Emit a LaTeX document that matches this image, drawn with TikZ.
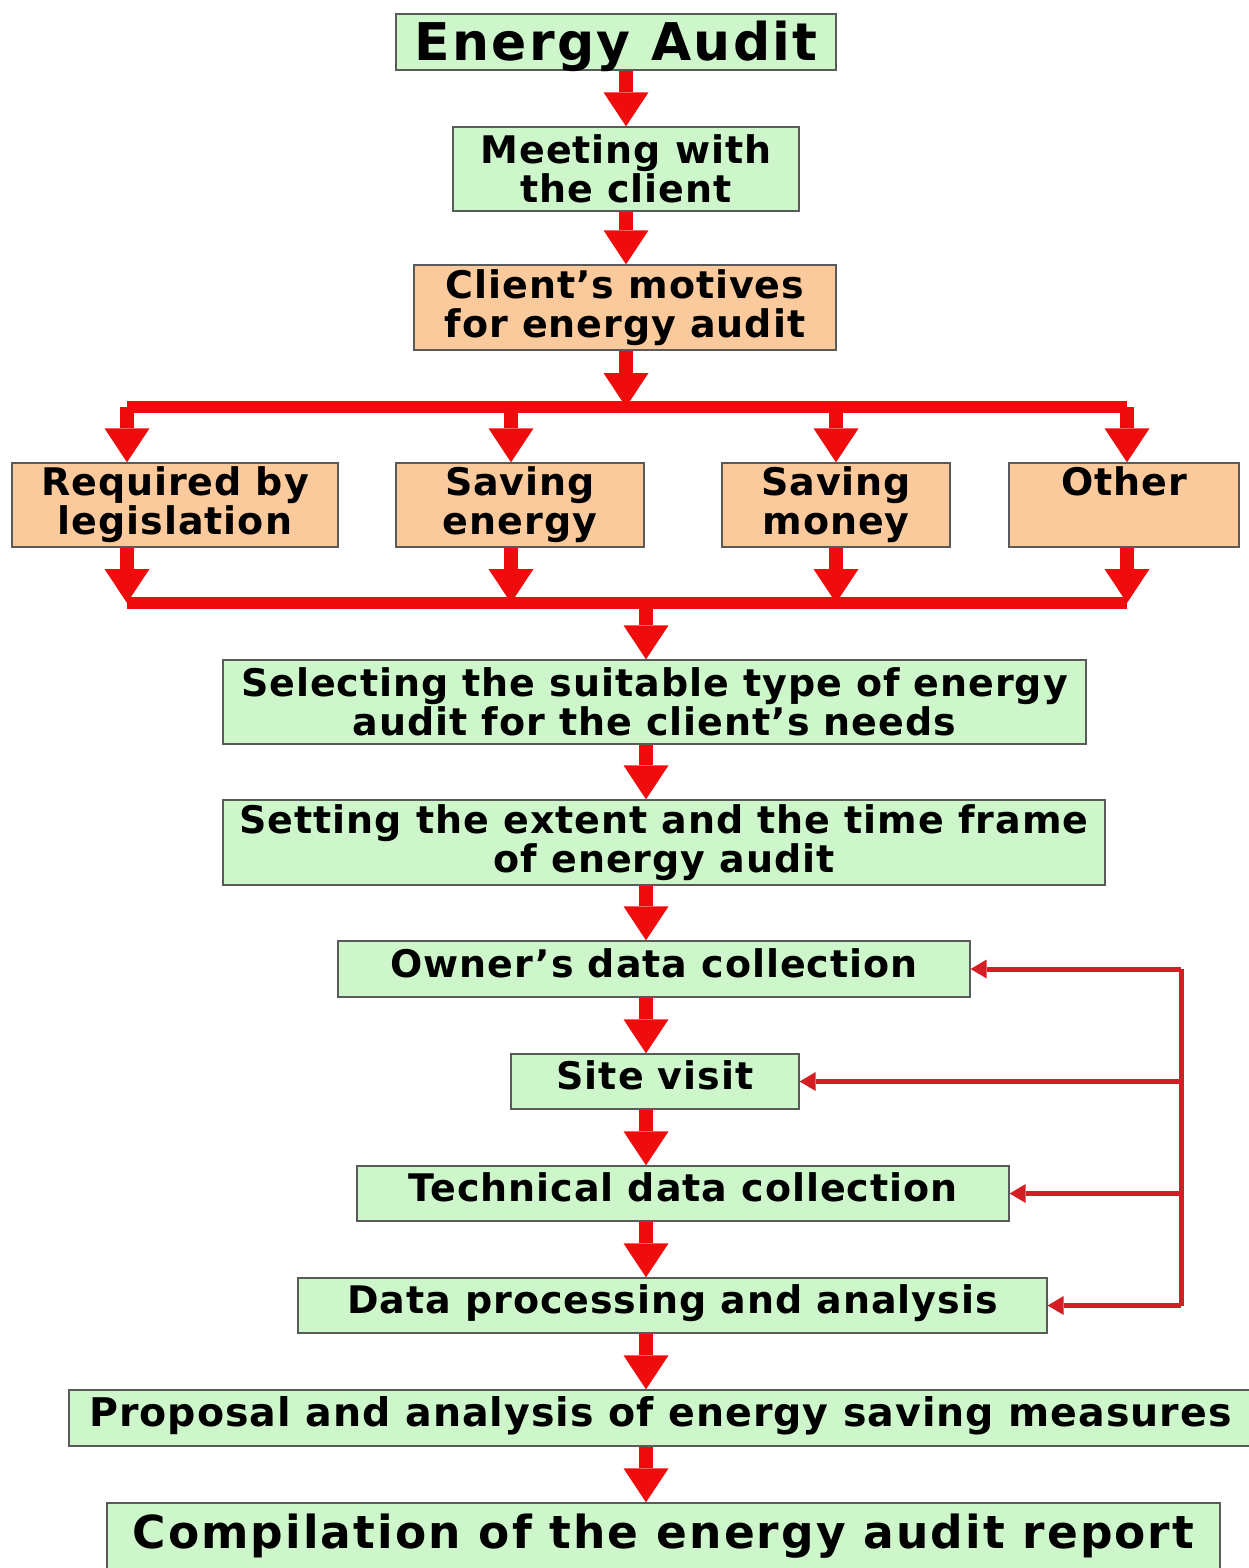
\documentclass[tikz,border=0pt]{standalone}
\usepackage{fontspec}
\setmainfont{DejaVu Sans}
\usetikzlibrary{arrows.meta}
\definecolor{boxgreen}{RGB}{206,246,203}
\definecolor{boxorange}{RGB}{250,201,156}
\definecolor{arrowred}{RGB}{240,12,12}
\definecolor{loopred}{RGB}{212,30,36}
\definecolor{boxline}{RGB}{90,90,90}
\newfontfamily\diagfont[LetterSpace=2.5]{DejaVu Sans}
\newfontfamily\titlefont[LetterSpace=4.5]{DejaVu Sans}
\newcommand{\bodyfont}{\diagfont\fontsize{38}{39}\selectfont\bfseries}
\begin{document}
\begin{tikzpicture}[x=1pt,y=-1pt,
  boxbase/.style={draw=boxline, line width=1.3pt, inner sep=0pt, align=center, font=\bodyfont, text=black},
  gbox/.style={boxbase, fill=boxgreen},
  obox/.style={boxbase, fill=boxorange},
  oneline/.style={text height=27pt, text depth=11pt},
  bigarrow/.style={draw=arrowred, line width=14pt, -{Triangle[width=45pt,length=34pt,line width=0pt]}},
  barline/.style={draw=arrowred, line width=12pt, line cap=square},
  loopline/.style={draw=loopred, line width=5pt, line cap=square},
  looparrow/.style={draw=loopred, line width=5pt, -{Triangle[width=19pt,length=16pt,line width=0pt]}}
]
\useasboundingbox[fill=white] (0,0) rectangle (1248,1568);

% boxes
\node[gbox, minimum width=440pt, minimum height=56pt, font=\titlefont\fontsize{52}{52}\selectfont\bfseries, text height=38pt, text depth=0pt] (ea) at (616,42) {Energy Audit};
\node[gbox, minimum width=346pt, minimum height=84pt] (mt) at (626,169) {Meeting with\\the client};
\node[obox, minimum width=422pt, minimum height=85pt] (cm) at (625,307.5) {Client’s motives\\for energy audit};
\node[obox, minimum width=326pt, minimum height=84pt] (rb) at (175,505) {Required by\\legislation};
\node[obox, minimum width=248pt, minimum height=84pt] (se) at (520,505) {Saving\\energy};
\node[obox, minimum width=228pt, minimum height=84pt] (sm) at (836,505) {Saving\\money};
\node[obox, minimum width=230pt, minimum height=84pt] (ot) at (1124,505) {Other\\\phantom{y}};
\node[gbox, minimum width=863pt, minimum height=84pt] (sel) at (654.5,702) {Selecting the suitable type of energy\\audit for the client’s needs};
\node[gbox, minimum width=882pt, minimum height=85pt] (set) at (664,842.5) {Setting the extent and the time frame\\of energy audit};
\node[gbox, oneline, minimum width=632pt, minimum height=56pt] (ow) at (654,969) {Owner’s data collection};
\node[gbox, oneline, minimum width=288pt, minimum height=55pt] (sv) at (655,1081.5) {Site visit};
\node[gbox, oneline, minimum width=652pt, minimum height=55pt] (td) at (683,1193.5) {Technical data collection};
\node[gbox, oneline, minimum width=749pt, minimum height=55pt] (dp) at (672.5,1305.5) {Data processing and analysis};
\node[gbox, oneline, minimum width=1183pt, minimum height=56pt, font=\diagfont\fontsize{39.5}{40}\selectfont\bfseries] (pr) at (660.5,1418) {Proposal and analysis of energy saving measures};
\node[gbox, minimum width=1113pt, minimum height=66pt, font=\titlefont\fontsize{45.5}{46}\selectfont\bfseries, text height=33pt, text depth=9pt] (cp) at (663.5,1536) {Compilation of the energy audit report};

% junction coordinates
\coordinate (bt) at (626,407);
\coordinate (t1) at (127,407);
\coordinate (t2) at (511,407);
\coordinate (t3) at (836,407);
\coordinate (t4) at (1127,407);
\coordinate (bb) at (646,603);
\coordinate (u1) at (127,603);
\coordinate (u2) at (511,603);
\coordinate (u3) at (836,603);
\coordinate (u4) at (1127,603);
\coordinate (col) at (646,0);
\coordinate (fx) at (1181,0);

% top chain
\draw[bigarrow] (ea.south -| mt.north) -- (mt.north);
\draw[bigarrow] (mt.south) -- (mt.south |- cm.north);
\draw[bigarrow] (cm.south -| bt) -- (bt);

% distribution bar
\draw[barline] (t1) -- (t4);
\draw[bigarrow] (t1) -- (t1 |- rb.north);
\draw[bigarrow] (t2) -- (t2 |- se.north);
\draw[bigarrow] (t3) -- (t3 |- sm.north);
\draw[bigarrow] (t4) -- (t4 |- ot.north);

% collection bar
\draw[barline] (u1) -- (u4);
\draw[bigarrow] (u1 |- rb.south) -- (u1);
\draw[bigarrow] (u2 |- se.south) -- (u2);
\draw[bigarrow] (u3 |- sm.south) -- (u3);
\draw[bigarrow] (u4 |- ot.south) -- (u4);
\draw[bigarrow] (bb) -- (bb |- sel.north);

% lower chain
\draw[bigarrow] (sel.south -| col) -- (set.north -| col);
\draw[bigarrow] (set.south -| col) -- (ow.north -| col);
\draw[bigarrow] (ow.south -| col) -- (sv.north -| col);
\draw[bigarrow] (sv.south -| col) -- (td.north -| col);
\draw[bigarrow] (td.south -| col) -- (dp.north -| col);
\draw[bigarrow] (dp.south -| col) -- (pr.north -| col);
\draw[bigarrow] (pr.south -| col) -- (cp.north -| col);

% feedback loop
\draw[loopline] (ow.east -| fx) -- (dp.east -| fx);
\draw[looparrow] (ow.east -| fx) -- (ow.east);
\draw[looparrow] (sv.east -| fx) -- (sv.east);
\draw[looparrow] (td.east -| fx) -- (td.east);
\draw[looparrow] (dp.east -| fx) -- (dp.east);
\end{tikzpicture}
\end{document}
